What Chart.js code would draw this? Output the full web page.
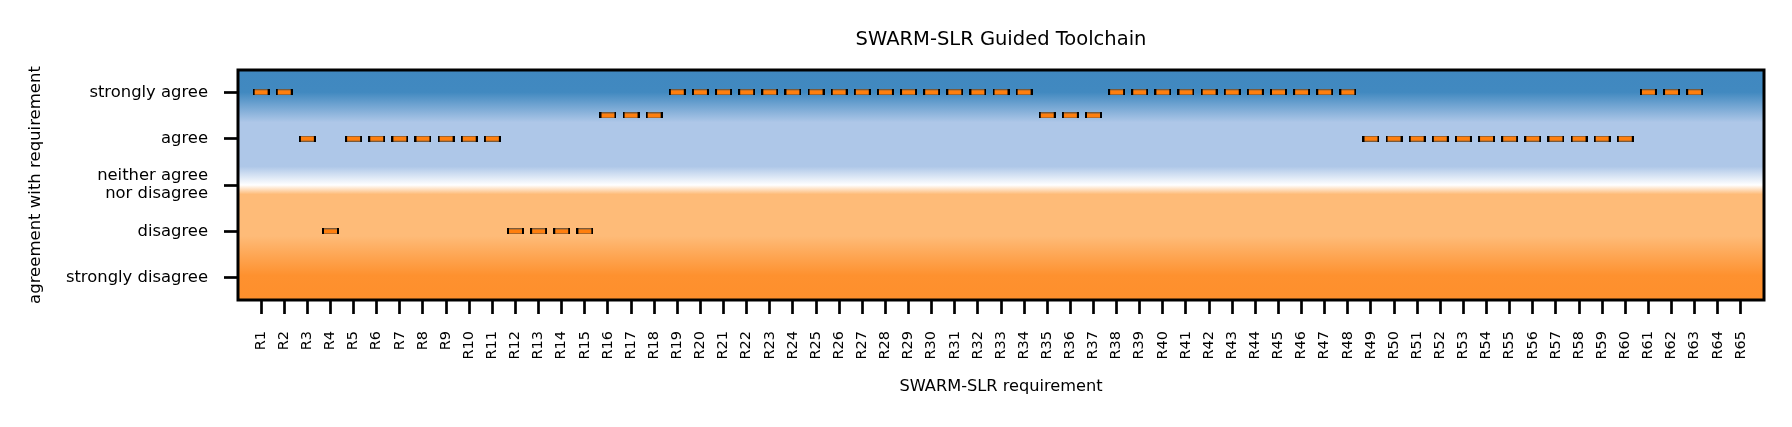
<!DOCTYPE html>
<html>
<head>
<meta charset="utf-8">
<script src="https://cdn.jsdelivr.net/npm/chart.js@4"></script>
<style>
  html, body { margin: 0; padding: 0; background: #fff; }
  canvas { display: block; }
</style>
</head>
<body>
<canvas id="chart" width="1792" height="427"></canvas>
<script>
const requirements = ['R1', 'R2', 'R3', 'R4', 'R5', 'R6', 'R7', 'R8', 'R9', 'R10',
  'R11', 'R12', 'R13', 'R14', 'R15', 'R16', 'R17', 'R18', 'R19', 'R20',
  'R21', 'R22', 'R23', 'R24', 'R25', 'R26', 'R27', 'R28', 'R29', 'R30',
  'R31', 'R32', 'R33', 'R34', 'R35', 'R36', 'R37', 'R38', 'R39', 'R40',
  'R41', 'R42', 'R43', 'R44', 'R45', 'R46', 'R47', 'R48', 'R49', 'R50',
  'R51', 'R52', 'R53', 'R54', 'R55', 'R56', 'R57', 'R58', 'R59', 'R60',
  'R61', 'R62', 'R63', 'R64', 'R65'];

// 1 = strongly disagree ... 5 = strongly agree, null = no answer
const agreement = [5, 5, 4, 2, 4, 4, 4, 4, 4, 4,
  4, 2, 2, 2, 2, 4.5, 4.5, 4.5, 5, 5,
  5, 5, 5, 5, 5, 5, 5, 5, 5, 5,
  5, 5, 5, 5, 4.5, 4.5, 4.5, 5, 5, 5,
  5, 5, 5, 5, 5, 5, 5, 5, 4, 4,
  4, 4, 4, 4, 4, 4, 4, 4, 4, 4,
  5, 5, 5, null, null];

const levelValues = [1, 2, 3, 4, 5];
const levelLabels = ['strongly disagree', 'disagree', ['neither agree', 'nor disagree'], 'agree', 'strongly agree'];

// background band: [agreement value, colour]
const bandStops = [
  [5.5, '#4088c0'],
  [5.0, '#4189c0'],
  [4.35, '#aec7e8'],
  [3.4, '#aec7e8'],
  [3.0, '#ffffff'],
  [2.8, '#febb78'],
  [1.9, '#febb78'],
  [1.05, '#fe912f'],
  [0.5, '#fe8f2c']
];

// little flat box marker
function makeMarker() {
  const c = document.createElement('canvas');
  c.width = 17;
  c.height = 6;
  const g = c.getContext('2d');
  g.fillStyle = '#7a5a3a';
  g.fillRect(0, 0, 17, 6);
  g.fillStyle = '#ff7f0e';
  g.fillRect(2, 1, 13, 4);
  g.fillStyle = '#000';
  g.fillRect(0, 0, 2, 6);
  g.fillRect(15, 0, 2, 6);
  return c;
}
const marker = makeMarker();

const bandPlugin = {
  id: 'band',
  beforeDatasetsDraw(chart) {
    const { ctx, chartArea } = chart;
    const y = chart.scales.y;
    const top = chartArea.top, bottom = chartArea.bottom;
    const grad = ctx.createLinearGradient(0, top, 0, bottom);
    bandStops.forEach(([v, col]) => {
      let t = (y.getPixelForValue(v) - top) / (bottom - top);
      t = Math.min(1, Math.max(0, t));
      grad.addColorStop(t, col);
    });
    ctx.save();
    ctx.fillStyle = grad;
    ctx.fillRect(chartArea.left, top, chartArea.right - chartArea.left, bottom - top);
    ctx.restore();
  },
  afterDatasetsDraw(chart) {
    const { ctx, chartArea } = chart;
    ctx.save();
    ctx.strokeStyle = '#000';
    ctx.lineWidth = 3;
    ctx.strokeRect(chartArea.left, chartArea.top, chartArea.right - chartArea.left, chartArea.bottom - chartArea.top);
    ctx.restore();
  }
};

Chart.defaults.font.family = "'DejaVu Sans', sans-serif";
Chart.defaults.color = '#000';

const points = requirements.map((r, i) => ({ x: i + 1, y: agreement[i] }));

new Chart(document.getElementById('chart'), {
  type: 'scatter',
  data: {
    datasets: [{
      data: points,
      pointStyle: marker,
      pointRadius: 8,
      pointHoverRadius: 8
    }]
  },
  options: {
    responsive: false,
    animation: false,
    devicePixelRatio: 1,
    layout: { padding: { left: 0, right: 28, top: 0, bottom: 0 } },
    plugins: {
      legend: { display: false },
      tooltip: { enabled: false },
      title: {
        display: true,
        fullSize: false,
        text: 'SWARM-SLR Guided Toolchain',
        font: { size: 19.5, weight: 'normal' },
        color: '#000',
        padding: { top: 28, bottom: 18.6 }
      }
    },
    scales: {
      x: {
        type: 'linear',
        min: 0,
        max: 66,
        afterBuildTicks: s => { s.ticks = requirements.map((r, i) => ({ value: i + 1 })); },
        afterFit: s => { s.height = 127; },
        grid: { drawOnChartArea: false, drawTicks: true, tickLength: 14, tickWidth: 2.7, tickColor: '#000' },
        border: { display: false },
        ticks: {
          autoSkip: false,
          minRotation: 90,
          maxRotation: 90,
          padding: 17,
          font: { size: 14.5 },
          callback: v => requirements[v - 1]
        },
        title: {
          display: true,
          text: 'SWARM-SLR requirement',
          font: { size: 16.2 },
          padding: { top: 0, bottom: 30.4 }
        }
      },
      y: {
        type: 'linear',
        min: 0.52,
        max: 5.48,
        afterBuildTicks: s => { s.ticks = levelValues.map(v => ({ value: v })); },
        afterFit: s => { s.width = 238; },
        grid: { drawOnChartArea: false, drawTicks: true, tickLength: 14, tickWidth: 2.7, tickColor: '#000' },
        border: { display: false },
        ticks: {
          padding: 16,
          font: { size: 16.4, lineHeight: 1.12 },
          callback: v => levelLabels[levelValues.indexOf(v)]
        },
        title: {
          display: true,
          text: 'agreement with requirement',
          font: { size: 16.5 },
          padding: { top: 25.4, bottom: 0 }
        }
      }
    }
  },
  plugins: [bandPlugin]
});
</script>
</body>
</html>
